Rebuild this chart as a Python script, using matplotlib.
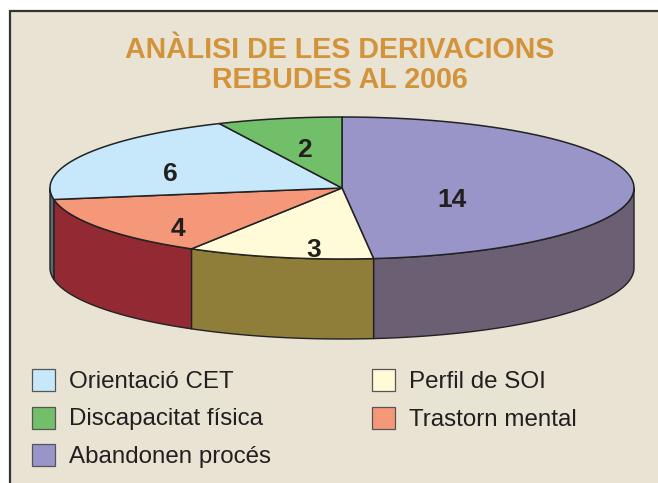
import numpy as np
import matplotlib.pyplot as plt
from matplotlib.patches import Polygon, Rectangle

plt.rcParams["font.family"] = ["Liberation Sans", "DejaVu Sans"]

title_lines = ["ANÀLISI DE LES DERIVACIONS", "REBUDES AL 2006"]

# slices, clockwise from 12 o'clock
slice_names = ["Abandonen procés", "Perfil de SOI", "Trastorn mental",
               "Orientació CET", "Discapacitat física"]
slice_values = [14, 3, 4, 6, 2]
top_colors = ["#9995c8", "#fffbd8", "#f5987a", "#c6e8fa", "#72bf6a"]
side_colors = ["#6b5f74", "#8f7d3a", "#932a33", "#5f6770", "#3f7a3a"]

# legend layout: two columns
legend_cols = [["Orientació CET", "Discapacitat física", "Abandonen procés"],
               ["Perfil de SOI", "Trastorn mental"]]

BG = "#e9e3d4"
EDGE = "#222222"
cx, cy, a, b, depth = 342, 188, 292, 71, 80

fig = plt.figure(figsize=(6.58, 4.83), dpi=100)
fig.patch.set_facecolor("white")
ax = fig.add_axes([0, 0, 1, 1])
ax.set_xlim(0, 658)
ax.set_ylim(483, 0)
ax.axis("off")

ax.add_patch(Rectangle((10, 11), 700, 520, facecolor=BG, edgecolor="#333333", lw=1.6))

for i, line in enumerate(title_lines):
    ax.text(340, 58 + i * 30.5, line, ha="center", va="baseline", fontsize=20.6,
            fontweight="bold", color="#d3933a")


def arc(t1, t2, n=80, drop=0.0):
    t = np.radians(np.linspace(t1, t2, n))
    return np.column_stack([cx + a * np.cos(t), cy - b * np.sin(t) + drop])


total = sum(slice_values)
spans = []
start = 90.0
for v in slice_values:
    end = start - v / total * 360.0
    spans.append((start, end))
    start = end

# side walls (front half, angles between -180 and 0)
for (s, e), col in zip(spans, side_colors):
    for shift in (0, 360, -360):
        h = min(s + shift, 0.0)
        l = max(e + shift, -180.0)
        if h > l:
            top = arc(h, l)
            bot = arc(l, h, drop=depth)
            ax.add_patch(Polygon(np.vstack([top, bot]), closed=True, facecolor=col,
                                 edgecolor=EDGE, lw=1.0, joinstyle="round"))

# top wedges
for (s, e), col in zip(spans, top_colors):
    pts = np.vstack([[cx, cy], arc(s, e)])
    ax.add_patch(Polygon(pts, closed=True, facecolor=col, edgecolor=EDGE, lw=1.1,
                         joinstyle="round"))

# value labels: radial fraction and vertical nudge
label_pos = [(0.377, 11), (0.453, 28), (0.678, 11.5), (0.666, 6), (0.606, 2)]
for (s, e), v, (r, dy) in zip(spans, slice_values, label_pos):
    m = np.radians((s + e) / 2)
    x = cx + r * a * np.cos(m)
    y = cy - r * b * np.sin(m) + dy
    ax.text(x, y + 9.5, str(v), ha="center", va="baseline", fontsize=19,
            fontweight="bold", color="#231f20")

# legend
color_of = dict(zip(slice_names, top_colors))
for c, names in enumerate(legend_cols):
    for r, name in enumerate(names):
        x0 = 32 + c * 340
        y0 = 380 + r * 37.5
        ax.add_patch(Rectangle((x0, y0 - 11), 23, 22, facecolor=color_of[name],
                               edgecolor="#555555", lw=0.9))
        ax.text(x0 + 37, y0 + 8, name, ha="left", va="baseline", fontsize=17.4,
                color="#231f20")

fig.savefig("out.png", dpi=100, facecolor="white")
